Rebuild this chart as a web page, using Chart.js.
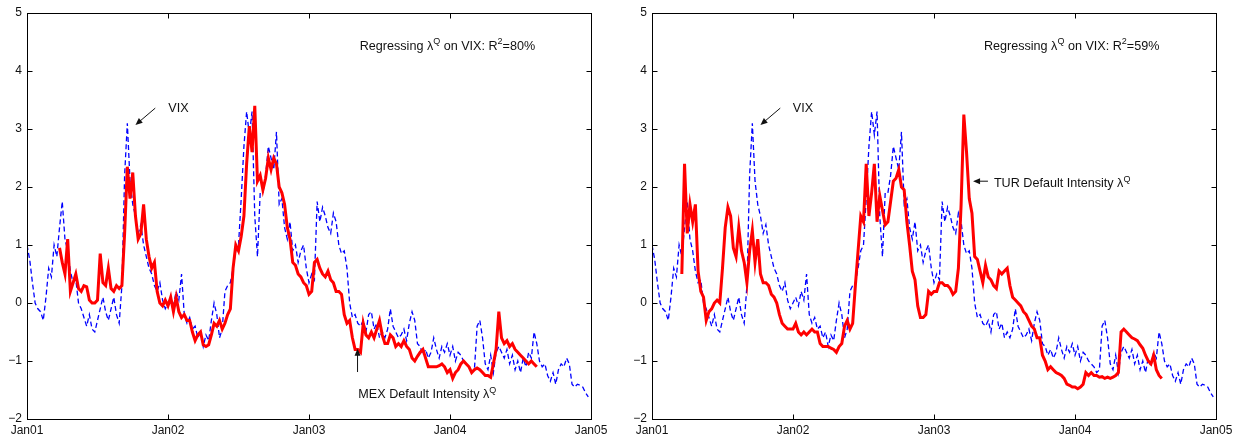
<!DOCTYPE html>
<html><head><meta charset="utf-8">
<script src="https://cdn.jsdelivr.net/npm/chart.js@4.4.0/dist/chart.umd.min.js"></script>
<style>
html,body{margin:0;padding:0;background:#fff;}
#wrap{position:relative;width:1239px;height:437px;overflow:hidden;}
canvas{position:absolute;top:0;}
</style></head><body>
<div id="wrap">
<canvas id="c1" width="620" height="437" style="left:0"></canvas>
<canvas id="c2" width="619" height="437" style="left:620px"></canvas>
</div>
<script>
// x axis is measured in weeks from Jan 2001
const xTickLabels = ['Jan01', 'Jan02', 'Jan03', 'Jan04', 'Jan05'];
const xTickWeeks = [0, 52, 104, 156, 208];
const yTicks = [-2, -1, 0, 1, 2, 3, 4, 5];

const vixStartWeek = 0;
const vix = [
 1.0, 0.75, 0.35, 0.0, -0.1, -0.15, -0.3, 0.1, 0.6, 0.45,
 1.0, 0.8, 1.3, 1.75, 1.1, 0.9, 0.55, 0.35, 0.4, 0.0,
 -0.1, -0.25, -0.4, -0.2, -0.45, -0.5, -0.3, -0.1, 0.1, -0.15,
 -0.3, -0.1, 0.1, -0.2, -0.35, 0.3, 2.2, 3.1, 2.1, 1.7,
 1.5, 1.2, 1.35, 1.0, 0.8, 0.6, 0.5, 0.3, 0.2, 0.35,
 0.05, -0.1, 0.0, 0.1, -0.05, 0.2, 0.05, 0.5, -0.2, -0.35,
 -0.25, -0.45, -0.4, -0.6, -0.5, -0.75, -0.55, -0.65, -0.3, 0.0,
 -0.2, -0.6, -0.45, 0.2, 0.3, 0.35, 0.6, 0.9, 1.0, 1.8,
 2.7, 3.3, 2.9, 3.3, 1.5, 0.8, 1.9, 1.9, 2.2, 2.7,
 2.5, 2.3, 2.95, 1.7, 1.8, 1.3, 1.1, 1.4, 0.9, 1.0,
 0.7, 0.9, 1.0, 0.6, 0.35, 0.5, 0.4, 1.75, 1.4, 1.65,
 1.5, 1.3, 1.2, 1.55, 1.4, 1.0, 0.85, 0.9, 0.6, 0.0,
 -0.25, -0.2, -0.35, -0.4, -0.3, -0.5, -0.2, -0.15, -0.45, -0.35,
 -0.6, -0.5, -0.6, -0.45, -0.1, -0.4, -0.5, -0.6, -0.55, -0.45,
 -0.65, -0.35, -0.15, -0.3, -0.7, -0.75, -0.9, -0.8, -0.95, -0.85,
 -0.6, -0.8, -0.95, -0.75, -0.85, -0.7, -0.9, -0.75, -1.0, -0.85,
 -0.9, -1.0, -1.05, -1.1, -1.2, -1.15, -0.4, -0.3, -0.6, -1.05,
 -1.15, -0.9, -1.2, -0.85, -0.75, -0.85, -0.95, -0.8, -1.05, -0.9,
 -1.15, -1.0, -1.2, -0.95, -1.1, -0.85, -0.95, -0.5, -0.7, -1.0,
 -1.1, -1.05, -1.25, -1.35, -1.2, -1.4, -1.15, -1.05, -1.1, -0.95,
 -1.05, -1.4, -1.45, -1.4, -1.42, -1.45, -1.55, -1.62
];

const mexStartWeek = 12;
const mex = [
 0.95, 0.7, 0.5, 1.1, 0.2, 0.35, 0.5, 0.25,
 0.2, 0.3, 0.28, 0.05, 0.0, 0.0, 0.05, 0.85, 0.35, 0.3,
 0.6, 0.25, 0.2, 0.3, 0.25, 0.3, 1.2, 2.35, 1.8, 2.25,
 1.5, 1.1, 1.2, 1.7, 1.1, 0.8, 0.6, 0.7, 0.2, 0.0,
 -0.05, 0.05, -0.05, 0.1, -0.15, 0.1, -0.15, -0.25, -0.2, -0.3,
 -0.3, -0.5, -0.65, -0.55, -0.5, -0.72, -0.75, -0.72, -0.55, -0.35,
 -0.4, -0.3, -0.45, -0.35, -0.2, -0.1, 0.6, 1.0, 0.9, 1.15,
 1.5, 2.4, 3.05, 2.6, 3.4, 2.1, 2.2, 1.95, 2.15, 2.5,
 2.3, 2.5, 2.4, 2.0, 1.9, 1.7, 1.3, 1.1, 0.7, 0.65,
 0.5, 0.45, 0.35, 0.3, 0.15, 0.2, 0.7, 0.75, 0.6, 0.5,
 0.45, 0.55, 0.4, 0.35, 0.2, 0.2, 0.15, -0.2, -0.35, -0.3,
 -0.6, -0.8, -0.8, -0.85, -0.35, -0.55, -0.6, -0.5, -0.6, -0.45,
 -0.3, -0.55, -0.7, -0.7, -0.55, -0.6, -0.75, -0.7, -0.75, -0.65,
 -0.75, -0.8, -0.95, -1.0, -0.92, -0.85, -0.8, -0.95, -1.1, -1.1,
 -1.1, -1.1, -1.08, -1.05, -1.1, -1.2, -1.15, -1.3, -1.2, -1.15,
 -1.05, -1.0, -1.05, -1.1, -1.2, -1.15, -1.12, -1.15, -1.2, -1.25,
 -1.25, -1.28, -1.05, -0.8, -0.15, -0.6, -0.7, -0.65, -0.75, -0.7,
 -0.8, -0.85, -0.9, -0.95, -1.0, -1.05, -1.0, -1.05, -1.1
];

const turStartWeek = 11;
const tur = [
 0.5, 2.4, 1.2, 1.7, 1.4, 1.7, 0.55, 0.2, 0.1,
 -0.3, -0.15, -0.1, 0.0, 0.05, 0.0, 0.6, 1.3, 1.65, 1.5,
 0.95, 0.8, 1.3, 0.9, 0.7, 0.35, 0.9, 1.25, 0.7, 1.1,
 0.5, 0.35, 0.35, 0.3, 0.15, 0.1, 0.0, -0.2, -0.35, -0.4,
 -0.45, -0.45, -0.45, -0.35, -0.5, -0.55, -0.5, -0.55, -0.5, -0.45,
 -0.5, -0.5, -0.7, -0.75, -0.75, -0.75, -0.78, -0.8, -0.85, -0.75,
 -0.7, -0.4, -0.3, -0.45, -0.35, 0.3, 0.9, 1.5, 1.4, 2.4,
 1.5, 1.9, 2.4, 1.4, 1.85, 1.6, 1.35, 1.4, 1.75, 2.1,
 2.15, 2.3, 2.0, 1.95, 1.4, 1.0, 0.55, 0.4, -0.05, -0.25,
 -0.25, -0.2, 0.2, 0.15, 0.2, 0.2, 0.35, 0.35, 0.3, 0.3,
 0.25, 0.15, 0.2, 0.6, 1.7, 3.25, 2.6, 1.8, 1.55, 0.8,
 0.75, 0.55, 0.35, 0.65, 0.45, 0.4, 0.3, 0.25, 0.55, 0.5,
 0.55, 0.6, 0.3, 0.1, 0.05, 0.0, -0.05, -0.15, -0.2, -0.3,
 -0.4, -0.45, -0.6, -0.6, -0.9, -1.0, -1.15, -1.1, -1.15, -1.2,
 -1.22, -1.25, -1.3, -1.4, -1.42, -1.45, -1.45, -1.48, -1.45, -1.4,
 -1.2, -1.25, -1.2, -1.25, -1.25, -1.28, -1.27, -1.3, -1.28, -1.3,
 -1.28, -1.25, -1.2, -0.5, -0.45, -0.5, -0.55, -0.6, -0.62, -0.65,
 -0.72, -0.78, -0.9, -1.0, -1.05, -0.9, -1.15, -1.25, -1.3
];

const FONT = '"Liberation Sans", Arial, Helvetica, sans-serif';
const toPoints = (start, arr) => arr.map((v, i) => ({ x: start + i, y: v }));

function drawRich(ctx, x, y, parts, size) {
  let cx = x;
  ctx.textBaseline = 'alphabetic';
  ctx.textAlign = 'left';
  for (const p of parts) {
    const s = p.sup ? Math.round(size * 0.68) : size;
    ctx.font = s + 'px ' + FONT;
    ctx.fillText(p.t, cx, p.sup ? y - size * 0.42 : y);
    cx += ctx.measureText(p.t).width;
  }
}
function arrow(ctx, x1, y1, x2, y2) {
  const ang = Math.atan2(y2 - y1, x2 - x1);
  const hl = 7, hw = 3;
  ctx.beginPath();
  ctx.moveTo(x1, y1);
  ctx.lineTo(x2 - Math.cos(ang) * hl * 0.8, y2 - Math.sin(ang) * hl * 0.8);
  ctx.stroke();
  ctx.beginPath();
  ctx.moveTo(x2, y2);
  ctx.lineTo(x2 - Math.cos(ang) * hl - Math.sin(ang) * hw, y2 - Math.sin(ang) * hl + Math.cos(ang) * hw);
  ctx.lineTo(x2 - Math.cos(ang) * hl + Math.sin(ang) * hw, y2 - Math.sin(ang) * hl - Math.cos(ang) * hw);
  ctx.closePath();
  ctx.fill();
}

const boxTicks = {
  id: 'boxTicks',
  afterDraw(chart) {
    const { ctx, chartArea: a, scales: { x, y } } = chart;
    ctx.save();
    ctx.strokeStyle = '#000';
    ctx.lineWidth = 1;
    const L = Math.round(a.left) + 0.5, R = Math.round(a.right) + 0.5;
    const T = Math.round(a.top) + 0.5, B = Math.round(a.bottom) + 0.5;
    ctx.strokeRect(L, T, R - L, B - T);
    ctx.beginPath();
    x.ticks.forEach(t => {
      const px = Math.round(x.getPixelForValue(t.value)) + 0.5;
      ctx.moveTo(px, B); ctx.lineTo(px, B - 5);
      ctx.moveTo(px, T); ctx.lineTo(px, T + 5);
    });
    y.ticks.forEach(t => {
      const py = Math.round(y.getPixelForValue(t.value)) + 0.5;
      ctx.moveTo(L, py); ctx.lineTo(L + 5, py);
      ctx.moveTo(R, py); ctx.lineTo(R - 5, py);
    });
    ctx.stroke();

    // annotations
    const n = chart.options.plugins.boxTicks.notes || [];
    ctx.fillStyle = '#111';
    ctx.strokeStyle = '#111';
    for (const note of n) {
      if (note.text) {
        drawRich(ctx, x.getPixelForValue(note.x), y.getPixelForValue(note.y), note.text, 12.6);
      } else if (note.arrow) {
        const [x1, y1, x2, y2] = note.arrow;
        arrow(ctx, x.getPixelForValue(x1), y.getPixelForValue(y1), x.getPixelForValue(x2), y.getPixelForValue(y2));
      }
    }
    ctx.restore();
  }
};

function makeChart(id, redSeries, redStart, yWidth, padRight, notes) {
  return new Chart(document.getElementById(id), {
    type: 'line',
    data: {
      datasets: [
        { data: toPoints(redStart, redSeries), borderColor: '#ff0000', borderWidth: 3,
          pointRadius: 0, tension: 0, fill: false },
        { data: toPoints(vixStartWeek, vix), borderColor: '#0000ff', borderWidth: 1.3,
          borderDash: [5, 3], pointRadius: 0, tension: 0, fill: false }
      ]
    },
    options: {
      responsive: false,
      animation: false,
      events: [],
      layout: { padding: { top: 13, right: padRight, left: 0, bottom: 0 } },
      plugins: { legend: { display: false }, tooltip: { enabled: false }, boxTicks: { notes } },
      scales: {
        x: {
          type: 'linear', min: 0, max: 208,
          afterBuildTicks: s => { s.ticks = xTickWeeks.map(v => ({ value: v })); },
          afterFit: s => { s.height = 18; },
          grid: { display: false, drawTicks: false },
          border: { display: false },
          ticks: { padding: 4, color: '#111', font: { family: FONT, size: 12 }, maxRotation: 0,
            autoSkip: false, callback: v => xTickLabels[xTickWeeks.indexOf(v)] }
        },
        y: {
          type: 'linear', min: -2, max: 5,
          afterBuildTicks: s => { s.ticks = yTicks.map(v => ({ value: v })); },
          afterFit: s => { s.width = yWidth; },
          grid: { display: false, drawTicks: false },
          border: { display: false },
          ticks: { padding: 5, color: '#111', font: { family: FONT, size: 12 },
            callback: v => String(v).replace('-', '\u2212') }
        }
      }
    },
    plugins: [boxTicks]
  });
}

const lam = '\u03bb';
makeChart('c1', mex, mexStartWeek, 27, 29, [
  { x: 122.7, y: 4.37, text: [{ t: 'Regressing ' + lam }, { t: 'Q', sup: true }, { t: ' on VIX: R' }, { t: '2', sup: true }, { t: '=80%' }] },
  { x: 52.1, y: 3.3, text: [{ t: 'VIX' }] },
  { arrow: [47.3, 3.36, 40.0, 3.07] },
  { x: 122.2, y: -1.64, text: [{ t: 'MEX Default Intensity ' + lam }, { t: 'Q', sup: true }] },
  { arrow: [121.9, -1.19, 121.9, -0.79] }
]);
makeChart('c2', tur, turStartWeek, 32, 23, [
  { x: 122.4, y: 4.37, text: [{ t: 'Regressing ' + lam }, { t: 'Q', sup: true }, { t: ' on VIX: R' }, { t: '2', sup: true }, { t: '=59%' }] },
  { x: 51.9, y: 3.3, text: [{ t: 'VIX' }] },
  { arrow: [47.3, 3.36, 40.0, 3.07] },
  { x: 126.1, y: 2.0, text: [{ t: 'TUR Default Intensity ' + lam }, { t: 'Q', sup: true }] },
  { arrow: [123.9, 2.1, 118.4, 2.1] }
]);
</script>
</body></html>
